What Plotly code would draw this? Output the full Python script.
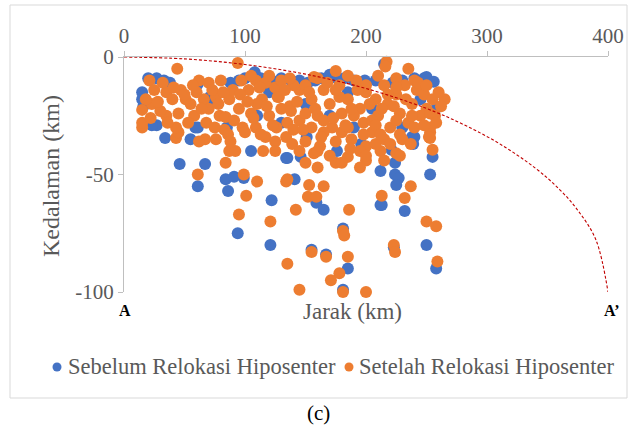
import plotly.graph_objects as go

# ---------------- data ----------------
sebelum_x = [15, 15, 16, 20, 27, 33, 38, 27, 23, 34, 55, 59, 61, 61, 71, 88, 95, 100, 108, 113,
             122, 130, 138, 145, 152, 158, 163, 170, 176, 182, 190, 199, 208, 215, 222, 230, 240, 248, 250, 256,
             257, 239, 240,
             46, 67, 61, 84, 91, 86, 105, 99, 122, 134, 151, 135, 146, 176, 196, 221, 224, 212, 224, 227,
             225, 238, 238, 255, 253, 141, 159, 165, 212, 232,
             94, 121, 213, 250, 258, 185, 155, 167, 181, 181, 223,
             70, 110, 130, 150, 170, 190, 205, 230, 120, 85, 185, 245]
sebelum_y = [-15, -18, -21, -9, -9, -10, -11, -29, -29, -34.5, -35, -30, -30, -11.5, -17, -11, -10, -9, -6.5, -9,
             -10, -9, -10, -10, -11, -10, -9, -7.5, -9, -9, -10, -10, -10, -3, -11, -10, -9, -9, -8.5, -10.5,
             -22.5, -37, -34,
             -45.5, -45.5, -55, -52, -51, -57, -40, -51.5, -61, -43, -34, -43, -42.5, -40, -37, -39.5, -45, -48.5, -50, -51.5,
             -54.5, -36.5, -34, -42.5, -50, -52, -62, -65, -63, -65.5,
             -75, -80, -63, -80, -90, -90, -82, -84, -73, -99, -81,
             -20, -25, -28, -20, -25, -30, -22, -30, -15, -30, -15, -18]

setelah_x = [44, 15, 43, 45, 67, 76, 83, 87, 92, 84, 61, 99, 110, 101, 134, 95,
             157, 175, 185, 212, 225, 228, 253, 253, 255, 135, 153, 165, 152, 159, 142, 186, 213, 237, 232,
             121, 250, 258, 181, 182, 155, 167, 185, 135, 223, 224, 259, 178, 171, 145, 181, 200,
             217, 216, 235, 265, 257, 253, 252, 94,
             21, 15, 15, 23, 35, 32, 40, 35, 43, 47, 51, 58, 62, 66, 70, 76, 87, 79, 84, 97, 103, 109, 114,
             98, 109, 117, 126, 134, 139, 117, 128, 137, 145, 157,
             150, 155, 160, 165, 170, 172, 178, 180, 185, 188, 192, 195, 198, 200, 205, 208, 210, 215, 218, 220,
             225, 228, 232, 235, 238, 242, 245, 248, 250, 255, 260, 240, 230, 215, 200, 185, 175, 165, 155, 145,
             140, 130, 125, 120, 110, 105, 150, 160, 170, 195, 208, 220, 160, 175, 185, 200, 210, 225, 240, 165,
             190, 205, 225, 180, 135, 150, 120, 130, 105, 90, 80, 60, 55, 30, 25, 45, 70, 95, 100, 115,
             125, 145, 140, 160, 180, 200, 215, 195,
             18, 22, 28, 36, 41, 50, 53, 57, 64, 68, 73, 78, 82, 86, 91, 96, 102, 107, 112, 118,
             123, 127, 133, 138, 143, 148, 153, 158, 163, 168, 173, 178, 183, 188, 193, 198, 203, 208, 213, 218,
             223, 228, 233, 238, 243, 248, 253, 258, 262, 62, 88, 113, 137, 162, 187, 212, 237, 75, 125, 175,
             225, 150, 200, 250]
setelah_y = [-5, -30, -34.5, -32, -35, -35, -31, -40, -40, -45, -50, -50, -53, -59, -53, -67,
             -41, -45, -42.5, -40, -41, -42, -32, -34.5, -39.5, -52, -54.5, -55, -59.5, -59.5, -65, -65, -59, -55, -60,
             -70, -70, -72, -74, -76, -83, -85, -85, -88, -80, -83, -87, -92, -95, -99, -100, -100,
             -2, -4, -5, -18, -25, -30, -34, -2.6,
             -10, -22.5, -28, -20, -15, -11, -18, -25, -30, -14, -18, -25, -10, -18, -11, -17, -18, -25, -25.5, -10, -14, -10, -18,
             -30, -30, -34, -30, -34, -37, -11, -17, -21, -14, -8.5,
             -12, -18, -25, -14, -20, -30, -12, -24, -18, -35, -10, -22, -28, -15, -32, -18, -25, -12, -20, -30,
             -16, -24, -12, -28, -20, -14, -25, -16, -22, -18, -15, -30, -35, -35, -38, -30, -36, -32, -30, -27,
             -12, -22, -13, -25, -20, -24, -36, -40, -42, -40, -37, -37, -9, -6, -8, -12, -8, -9, -10, -27,
             -25, -27, -27, -32, -28, -24, -8, -10, -8, -14, -10, -15, -20, -23, -14, -24, -22, -22, -32, -40,
             -36, -40, -31, -47, -45, -44, -44, -47,
             -18, -26, -19, -28, -13, -16, -28, -12, -22, -28, -14, -20, -15, -33, -27, -16, -19, -26, -13, -21,
             -29, -17, -14, -23, -19, -31, -15, -22, -34, -11, -26, -17, -29, -22, -14, -33, -20, -29, -22, -16,
             -21, -33, -18, -25, -11, -29, -24, -28, -21, -36, -36, -33, -9, -38, -39, -33, -37, -30, -40, -14,
             -13, -45, -42, -12]

# section line A - A'
curve_x = [0, 50, 100, 150, 200, 250, 280, 310, 340, 360, 375, 390, 400]
curve_y = [0, -0.8, -3.2, -7.3, -13.4, -21.9, -28.6, -36.8, -47.3, -56.4, -65.2, -77.8, -100]

x_ticks = [0, 100, 200, 300, 400]
x_tick_labels = ["0", "100", "200", "300", "400"]
y_ticks = [0, -50, -100]
y_tick_labels = ["0", "-50", "-100"]

series_names = ["Sebelum Relokasi Hiposenter", "Setelah Relokasi Hiposenter"]
series_colors = ["#4472C4", "#ED7D31"]

# ---------------- figure ----------------
FONT = "Times New Roman, Liberation Serif, DejaVu Serif, serif"
GREY = "#595959"
L, R, T, B = 124, 608, 57, 292
W, H = R - L, B - T


def px(xp):
    return (xp - L) / W


def py(yp):
    return (B - yp) / H


fig = go.Figure()
fig.add_trace(go.Scatter(x=sebelum_x, y=sebelum_y, mode="markers", name=series_names[0],
                         marker=dict(color=series_colors[0], size=12), cliponaxis=False))
fig.add_trace(go.Scatter(x=setelah_x, y=setelah_y, mode="markers", name=series_names[1],
                         marker=dict(color=series_colors[1], size=12), cliponaxis=False))
fig.add_trace(go.Scatter(x=curve_x, y=curve_y, mode="lines", showlegend=False,
                         line=dict(color="#C00000", width=1.1, dash="3px,2px", shape="spline")))

fig.update_layout(
    width=633, height=430,
    margin=dict(l=L, r=633 - R, t=T, b=430 - B, autoexpand=False),
    paper_bgcolor="white", plot_bgcolor="white",
    font=dict(family=FONT, color=GREY, size=20),
    showlegend=False,
    xaxis=dict(range=[0, 400], side="top", tickvals=x_ticks, ticktext=x_tick_labels, showgrid=False,
               zeroline=False, automargin=False,
               showline=True, linecolor="#BFBFBF", linewidth=1, ticks="outside", ticklen=5,
               tickcolor="#BFBFBF", tickfont=dict(size=21, color=GREY, family=FONT)),
    yaxis=dict(range=[-100, 0], tickvals=y_ticks, ticktext=y_tick_labels, showgrid=False,
               zeroline=False, automargin=False,
               showline=True, linecolor="#BFBFBF", linewidth=1, ticks="outside", ticklen=5,
               tickcolor="#BFBFBF", tickfont=dict(size=21, color=GREY, family=FONT)),
)


def note(text, xp, yp, size, color, xanchor="center", angle=0):
    fig.add_annotation(text=text, xref="paper", yref="paper", x=px(xp), y=py(yp),
                       xanchor=xanchor, yanchor="middle", textangle=angle, showarrow=False,
                       font=dict(size=size, color=color, family=FONT))


note("Kedalaman (km)", 51, 176, 24, GREY, angle=-90)
note("Jarak (km)", 352, 311, 23, GREY)
note("<b>A</b>", 125, 310, 16, "black")
note("<b>A’</b>", 612, 310, 16, "black")
note("(c)", 318, 413, 21, "black")

# manual legend
legend_dot_x = [57, 349]
legend_text_x = [66, 357]
for i in range(2):
    fig.add_shape(type="circle", xref="paper", yref="paper", xsizemode="pixel", ysizemode="pixel",
                  xanchor=px(legend_dot_x[i]), yanchor=py(367), x0=-4.5, x1=4.5, y0=-4.5, y1=4.5,
                  fillcolor=series_colors[i], line=dict(width=0))
    note(series_names[i], legend_text_x[i], 366, 22.5, GREY, xanchor="left")

fig.add_shape(type="rect", xref="paper", yref="paper",
              x0=px(10), x1=px(627), y0=py(398), y1=py(5),
              line=dict(color="#D9D9D9", width=1), fillcolor="rgba(0,0,0,0)", layer="below")

fig.write_html("out.html", config={"displayModeBar": False},
               post_script="document.body.style.margin='0';document.body.style.padding='0';")
